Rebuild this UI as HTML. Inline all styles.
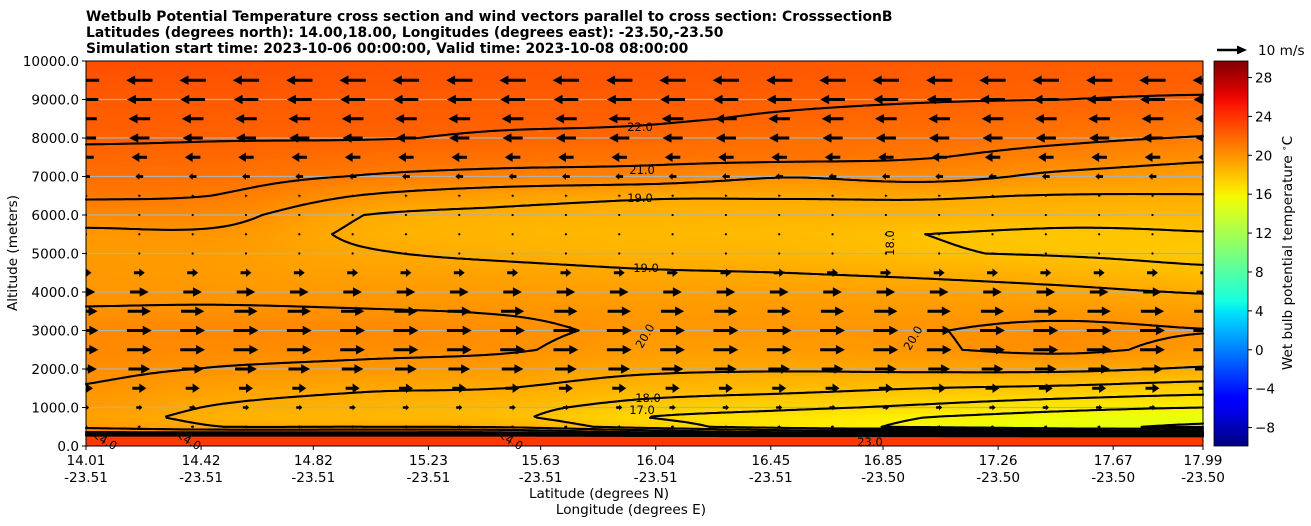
<!DOCTYPE html>
<html><head><meta charset="utf-8">
<style>
html,body{margin:0;padding:0;background:#fff;}
#wrap{position:relative;width:1311px;height:526px;overflow:hidden;font-family:"DejaVu Sans","Liberation Sans",sans-serif;}
#bg{position:absolute;left:86px;top:61px;}
#ov{position:absolute;left:0;top:0;}
text{font-family:"DejaVu Sans","Liberation Sans",sans-serif;}
</style></head>
<body>
<div id="wrap">
<canvas id="bg" width="1117" height="385"></canvas>
<svg id="ov" width="1311" height="526">
  <g font-weight="bold" font-size="13.9">
    <text x="86" y="21">Wetbulb Potential Temperature cross section and wind vectors parallel to cross section: CrosssectionB</text>
    <text x="86" y="37">Latitudes (degrees north): 14.00,18.00, Longitudes (degrees east): -23.50,-23.50</text>
    <text x="86" y="53">Simulation start time: 2023-10-06 00:00:00, Valid time: 2023-10-08 08:00:00</text>
  </g>
  <g id="grid"></g>
  <g id="contours"></g>
  <g id="clabels" font-size="11.5" fill="#000"></g>
  <g id="arrows"></g>
  <rect x="86" y="61" width="1117" height="385" fill="none" stroke="#000" stroke-width="1"/>
  <g id="yaxis" font-size="13.6"></g>
  <g id="xaxis" font-size="13.6"></g>
  <text x="17" y="253" font-size="13.6" text-anchor="middle" transform="rotate(-90 17 253)">Altitude (meters)</text>
  <text x="599" y="498" font-size="13.6" text-anchor="middle">Latitude (degrees N)</text>
  <text x="631" y="514" font-size="13.6" text-anchor="middle">Longitude (degrees E)</text>
  <defs><linearGradient id="jetg" x1="0" y1="1" x2="0" y2="0"></linearGradient></defs>
  <rect x="1214" y="61" width="34" height="385" fill="url(#jetg)" stroke="#000" stroke-width="0.8"/>
  <g id="cbticks" font-size="13.6"></g>
  <text x="1292" y="253" font-size="13.6" text-anchor="middle" transform="rotate(-90 1292 253)">Wet bulb potential temperature <tspan dy="-5" font-size="9">∘</tspan><tspan dy="5">C</tspan></text>
  <g>
    <line x1="1217" y1="50" x2="1240" y2="50" stroke="#000" stroke-width="2.6"/>
    <polygon points="1247,50 1237,45.5 1237,54.5" fill="#000"/>
    <text x="1258" y="55" font-size="13.6">10 m/s</text>
  </g>
</svg>
</div>
<script>
// ---------- data ----------
const gridLats = [14.0,14.5,15.0,15.5,16.0,16.5,17.0,17.5,18.0];
const gridAlts = [0,150,250,350,500,750,1000,1500,2000,2500,3000,3500,4000,4500,5000,5500,6000,6500,7000,7500,8000,8500,9000,9500,10000];
const tempC0 = [23.8,23.8,23.5,21,19.7,19.4,19.6,19.95,20.2,20.4,20.4,20.05,19.85,19.75,19.7,19.8,20.4,21.15,21.5,21.8,22.1,22.25,22.4,22.6,22.8];
const tempC1 = [23.8,23.8,23.5,21,19.0,18.7,18.9,19.4,19.95,20.3,20.5,20.1,19.8,19.6,19.6,19.8,20.3,20.95,21.35,21.75,22.05,22.2,22.4,22.6,22.8];
const tempC2 = [23.8,23.8,23.5,21,19.0,18.5,18.6,19.1,19.8,20.2,20.4,20.05,19.7,19.4,19.1,18.8,19.0,19.95,20.95,21.5,22.05,22.2,22.35,22.5,22.7];
const tempC3 = [23.8,23.8,23.5,21,18.8,18.2,18.3,19.0,19.6,20.1,20.2,19.95,19.6,19.3,18.8,18.5,18.7,19.4,20.7,21.4,21.9,22.15,22.3,22.45,22.6];
const tempC4 = [23.8,23.8,23.5,20,17.5,17.0,17.6,18.5,19.2,19.6,19.85,19.75,19.45,19.1,18.6,18.4,18.6,19.1,20.6,21.3,21.8,22.1,22.3,22.45,22.6];
const tempC5 = [23.8,23.8,23.5,19,16.5,16.5,17.2,18.3,19.1,19.6,19.85,19.7,19.4,19.0,18.5,18.3,18.5,19.1,20.05,21.3,21.5,21.9,22.15,22.35,22.5];
const tempC6 = [23.8,23.8,23.5,19,15.8,16.0,16.8,18.0,19.2,19.9,19.95,19.7,19.35,18.85,18.1,18.0,18.6,19.1,20.35,21.05,21.45,21.75,22.05,22.25,22.4];
const tempC7 = [23.8,23.8,23.5,18,15.2,15.5,16.3,17.8,19.2,20.2,20.3,19.7,19.2,18.6,17.9,17.8,18.4,18.95,19.75,20.6,21.2,21.6,22.0,22.15,22.3];
const tempC8 = [23.8,23.8,23.5,18,14.9,15.2,16.0,17.5,18.9,19.7,20.05,19.5,18.95,18.2,17.7,17.95,18.3,18.95,19.55,20.15,20.95,21.45,21.95,22.15,22.3];
const contourLevels = [15,16,17,18,19,20,21,22,23];
const windAlts = [500,1000,1500,2000,2500,3000,3500,4000,4500,5000,5500,6000,6500,7000,7500,8000,8500,9000,9500];
const windU = [1,2,4.5,7,8,8,7.5,6,3.5,0.6,0.3,0.3,-0.8,-2.5,-5,-6.5,-7,-8,-8.5];
const windLats = [14.01,14.2,14.39,14.58,14.77,14.96,15.15,15.34,15.53,15.72,15.91,16.1,16.29,16.48,16.67,16.86,17.05,17.24,17.43,17.62,17.81,18.0];
const xTickLats = [14.01,14.42,14.82,15.23,15.63,16.04,16.45,16.85,17.26,17.67,17.99];
const xTickLons = ["-23.51","-23.51","-23.51","-23.51","-23.51","-23.51","-23.51","-23.50","-23.50","-23.50","-23.50"];
const yTicks = [0,1000,2000,3000,4000,5000,6000,7000,8000,9000,10000];
const cbTicks = [-8,-4,0,4,8,12,16,20,24,28];
const cbMin = -9.9, cbMax = 29.7;

const tempCols = [tempC0,tempC1,tempC2,tempC3,tempC4,tempC5,tempC6,tempC7,tempC8];
// ---------- scales ----------
const PL=86, PT=61, PW=1117, PH=385;
function X(lat){return PL+(lat-14.01)/(17.99-14.01)*PW;}
function Y(alt){return PT+PH-alt/10000*PH;}
function jet(v){
  let t=(v-cbMin)/(cbMax-cbMin); t=Math.max(0,Math.min(1,t));
  function seg(pts){for(let i=0;i<pts.length-1;i++){if(t<=pts[i+1][0]){const a=pts[i],b=pts[i+1];return a[1]+(b[1]-a[1])*(t-a[0])/(b[0]-a[0]);}}return pts[pts.length-1][1];}
  const r=seg([[0,0],[0.35,0],[0.66,1],[0.89,1],[1,0.5]]);
  const g=seg([[0,0],[0.125,0],[0.375,1],[0.64,1],[0.91,0],[1,0]]);
  const b=seg([[0,0.5],[0.11,1],[0.34,1],[0.65,0],[1,0]]);
  return [Math.round(r*255),Math.round(g*255),Math.round(b*255)];
}
function profileAt(lat){
  let u=(lat-gridLats[0])/(gridLats[1]-gridLats[0]);
  u=Math.max(0,Math.min(gridLats.length-1-1e-9,u));
  const i=Math.floor(u), t=u-i, n=gridLats.length;
  const c=k=>tempCols[Math.max(0,Math.min(n-1,k))];
  const p0=c(i-1),p1=c(i),p2=c(i+1),p3=c(i+2);
  return gridAlts.map((_,r)=>{
    const a=p0[r],b=p1[r],cc=p2[r],d=p3[r];
    return 0.5*((2*b)+(-a+cc)*t+(2*a-5*b+4*cc-d)*t*t+(-a+3*b-3*cc+d)*t*t*t);
  });
}
function valInProfile(prof,alt){
  for(let r=0;r<gridAlts.length-1;r++){
    if(alt<=gridAlts[r+1]){const f=(alt-gridAlts[r])/(gridAlts[r+1]-gridAlts[r]);return prof[r]+(prof[r+1]-prof[r])*f;}
  }
  return prof[prof.length-1];
}
// ---------- background ----------
const cv=document.getElementById('bg'), ctx=cv.getContext('2d');
const img=ctx.createImageData(PW,PH);
for(let px=0;px<PW;px++){
  const lat=14.01+(px+0.5)/PW*(17.99-14.01);
  const prof=profileAt(lat);
  for(let py=0;py<PH;py++){
    const alt=(PH-py-0.5)/PH*10000;
    const c=jet(valInProfile(prof,alt));
    const k=(py*PW+px)*4;
    img.data[k]=c[0];img.data[k+1]=c[1];img.data[k+2]=c[2];img.data[k+3]=255;
  }
}
ctx.putImageData(img,0,0);
const NS='http://www.w3.org/2000/svg';
function mk(tag,attrs,parent){const e=document.createElementNS(NS,tag);for(const k in attrs)e.setAttribute(k,attrs[k]);parent.appendChild(e);return e;}
// ---------- grid ----------
const gG=document.getElementById('grid');
yTicks.forEach(v=>{
  if(v===0||v===10000)return;
  const l=mk('line',{x1:PL,x2:PL+PW,y1:Y(v),y2:Y(v),stroke:'#b0b0b0','stroke-width':1.2},gG);
  
  
});
// ---------- contours ----------
const NX=280, NY=300;
const F=[];
for(let i=0;i<=NX;i++){
  const lat=14.01+i/NX*(17.99-14.01);
  const prof=profileAt(lat);
  const col=[];
  for(let j=0;j<=NY;j++){col.push(valInProfile(prof,j/NY*10000));}
  F.push(col);
}
const gC=document.getElementById('contours');
contourLevels.forEach(lv=>{
  let d='';
  for(let i=0;i<NX;i++)for(let j=0;j<NY;j++){
    const v=[F[i][j],F[i+1][j],F[i+1][j+1],F[i][j+1]];
    const pts=[[i,j],[i+1,j],[i+1,j+1],[i,j+1]];
    const cr=[];
    for(let e=0;e<4;e++){
      const a=v[e],b=v[(e+1)%4];
      if((a<lv)!==(b<lv)){
        const f=(lv-a)/(b-a);
        const p=pts[e],q=pts[(e+1)%4];
        const gi=p[0]+(q[0]-p[0])*f, gj=p[1]+(q[1]-p[1])*f;
        cr.push([PL+gi/NX*PW, Y(gj/NY*10000)]);
      }
    }
    for(let k=0;k+1<cr.length;k+=2){
      d+='M'+cr[k][0].toFixed(1)+' '+cr[k][1].toFixed(1)+'L'+cr[k+1][0].toFixed(1)+' '+cr[k+1][1].toFixed(1);
    }
  }
  const p=mk('path',{d:d,stroke:'#000','stroke-width':2.1,fill:'none','stroke-linecap':'round'},gC);
  
  
});
const labs=[["22.0",640,131,0],["21.0",642,174,0],["19.0",640,202,0],["19.0",646,272,0],["18.0",890,247,-90],["20.0",645,340,-60],["20.0",913,342,-60],["18.0",648,402,0],["17.0",642,414,0],["<4.0",104,444,30],["<4.0",188,444,30],["<4.0",510,444,30],["23.0",870,446,0]];
const gL=document.getElementById('clabels');
labs.forEach(a=>{
  const t=mk('text',{x:a[1],y:a[2],'text-anchor':'middle',transform:'rotate('+a[3]+' '+a[1]+' '+(a[2]-4)+')'},gL);
  t.textContent=a[0];
  
  
});
// ---------- wind vectors ----------
const gA=document.getElementById('arrows');
const clip=mk('clipPath',{id:'pc'},document.querySelector('defs'));
mk('rect',{x:PL,y:PT,width:PW,height:PH},clip);
gA.setAttribute('clip-path','url(#pc)');
const PXPERMS=3.1;
windAlts.forEach((alt,r)=>{
  const u=windU[r];
  windLats.forEach(lat=>{
    const cx=X(lat), cy=Y(alt);
    let el;
    if(Math.abs(u)<0.7){
      el=mk('circle',{cx:cx,cy:cy,r:1.1,fill:'#000'},gA);
    }else{
      const L=u*PXPERMS, s=Math.sign(u), a=Math.abs(L);
      const hl=Math.min(9,a*0.5), hw=Math.min(4.8,a*0.3+1);
      const sw=Math.min(1.5,a*0.12+0.5);
      const x0=cx-L/2, x1=cx+L/2, xb=x1-s*hl;
      el=mk('path',{d:`M${x0} ${cy-sw}L${xb} ${cy-sw}L${xb} ${cy-hw}L${x1} ${cy}L${xb} ${cy+hw}L${xb} ${cy+sw}L${x0} ${cy+sw}Z`,fill:'#000'},gA);
    }
    
    
  });
});
// ---------- axes ----------
const gY=document.getElementById('yaxis');
yTicks.forEach(v=>{
  const y=Y(v);
  mk('line',{x1:PL-4,x2:PL,y1:y,y2:y,stroke:'#000'},gY);
  const t=mk('text',{x:PL-7,y:y+5,'text-anchor':'end'},gY);
  t.textContent=v.toFixed(1);
  
  
});
const gX=document.getElementById('xaxis');
xTickLats.forEach((lat,i)=>{
  const x=X(lat);
  mk('line',{x1:x,x2:x,y1:PT+PH,y2:PT+PH+4,stroke:'#000'},gX);
  const t=mk('text',{x:x,y:465,'text-anchor':'middle'},gX);
  t.textContent=lat.toFixed(2);
  
  
  const t2=mk('text',{x:x,y:482,'text-anchor':'middle'},gX);
  t2.textContent=xTickLons[i];
  
  
});
// ---------- colorbar ----------
const grad=document.getElementById('jetg');
for(let s=0;s<=40;s++){
  const v=cbMin+(cbMax-cbMin)*s/40, c=jet(v);
  mk('stop',{offset:(s/40),'stop-color':`rgb(${c[0]},${c[1]},${c[2]})`},grad);
}
const gT=document.getElementById('cbticks');
cbTicks.forEach(v=>{
  const y=PT+PH-(v-cbMin)/(cbMax-cbMin)*PH;
  mk('line',{x1:1248,x2:1252,y1:y,y2:y,stroke:'#000'},gT);
  const t=mk('text',{x:1255,y:y+5},gT);
  t.textContent=v<0?'\u2212'+Math.abs(v):String(v);
  
  
});
</script>
</body></html>
